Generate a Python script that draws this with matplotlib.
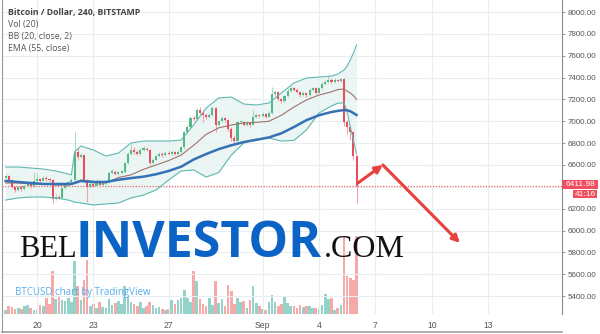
import matplotlib
matplotlib.use("Agg")
import matplotlib.pyplot as plt
import matplotlib.dates as mdates
import pandas as pd
import numpy as np

# 4h candles, Aug 18 08:00 -> Sep 6 00:00
times = pd.date_range("2018-08-18 08:00", periods=113, freq="4h")

opens = [6480, 6500, 6460, 6400, 6370, 6395, 6380, 6410, 6430, 6405,
         6450, 6470, 6455, 6480, 6470, 6460, 6290, 6310, 6300, 6390,
         6420, 6440, 6465, 6720, 6670, 6690, 6460, 6400, 6430, 6410,
         6450, 6420, 6435, 6440, 6530, 6540, 6520, 6530, 6535, 6620,
         6700, 6740, 6720, 6700, 6740, 6745, 6740, 6620, 6650, 6680,
         6700, 6690, 6710, 6700, 6720, 6700, 6720, 6760, 6900, 6950,
         7030, 7020, 7100, 7080, 7060, 7040, 7060, 7120, 6970, 7000,
         7030, 7010, 6930, 6850, 6820, 6990, 6995, 6970, 6985, 6970,
         7040, 7060, 7050, 7070, 7040, 7080, 7250, 7270, 7200, 7190,
         7230, 7280, 7300, 7290, 7270, 7240, 7260, 7240, 7290, 7300,
         7260, 7300, 7340, 7360, 7380, 7360, 7380, 7370, 7385, 6990,
         6950, 6900, 6680]
closes = [6500, 6460, 6400, 6370, 6395, 6380, 6410, 6430, 6405, 6450,
          6470, 6455, 6480, 6470, 6460, 6290, 6310, 6300, 6390, 6420,
          6440, 6465, 6720, 6670, 6690, 6460, 6400, 6430, 6410, 6450,
          6420, 6435, 6440, 6530, 6540, 6520, 6530, 6535, 6620, 6700,
          6740, 6720, 6700, 6740, 6745, 6740, 6620, 6650, 6680, 6700,
          6690, 6710, 6700, 6720, 6700, 6720, 6760, 6900, 6950, 7030,
          7020, 7100, 7080, 7060, 7040, 7060, 7120, 6970, 7000, 7030,
          7010, 6930, 6850, 6820, 6990, 6995, 6970, 6985, 6970, 7040,
          7060, 7050, 7070, 7040, 7080, 7250, 7270, 7200, 7190, 7230,
          7280, 7300, 7290, 7270, 7240, 7260, 7240, 7290, 7300, 7260,
          7300, 7340, 7360, 7380, 7360, 7380, 7370, 7385, 6990, 6950,
          6900, 6680, 6411.98]
highs = [6520, 6510, 6470, 6410, 6405, 6420, 6420, 6450, 6440, 6540,
         6530, 6480, 6500, 6495, 6480, 6470, 6330, 6325, 6400, 6430,
         6455, 6480, 6900, 6760, 6710, 6700, 6470, 6445, 6440, 6470,
         6460, 6450, 6460, 6545, 6560, 6550, 6545, 6550, 6630, 6715,
         6790, 6760, 6735, 6755, 6770, 6760, 6750, 6665, 6700, 6715,
         6720, 6730, 6725, 6735, 6730, 6740, 6775, 6915, 6970, 7050,
         7060, 7120, 7130, 7095, 7075, 7080, 7140, 7130, 7015, 7045,
         7040, 7020, 6945, 6870, 7000, 7010, 7005, 7000, 6995, 7100,
         7075, 7070, 7085, 7080, 7095, 7310, 7290, 7280, 7215, 7245,
         7300, 7320, 7315, 7300, 7280, 7275, 7270, 7305, 7315, 7310,
         7315, 7355, 7380, 7410, 7395, 7395, 7390, 7400, 7395, 7010,
         6965, 6910, 6690]
lows = [6465, 6445, 6385, 6350, 6360, 6365, 6370, 6400, 6390, 6400,
        6440, 6440, 6450, 6455, 6440, 6250, 6280, 6285, 6295, 6380,
        6410, 6430, 6455, 6650, 6660, 6440, 6260, 6390, 6395, 6400,
        6400, 6410, 6420, 6435, 6520, 6505, 6510, 6520, 6525, 6610,
        6690, 6705, 6690, 6695, 6730, 6725, 6600, 6610, 6645, 6670,
        6675, 6680, 6690, 6690, 6690, 6695, 6710, 6750, 6890, 6940,
        7000, 7010, 7060, 6990, 7020, 7030, 7050, 6900, 6960, 6990,
        6995, 6910, 6820, 6800, 6810, 6975, 6955, 6960, 6950, 6965,
        7030, 7035, 7040, 7030, 7035, 7070, 7235, 7185, 7170, 7180,
        7220, 7270, 7275, 7255, 7225, 7230, 7225, 7235, 7280, 7250,
        7255, 7290, 7330, 7350, 7345, 7350, 7355, 7360, 6960, 6880,
        6830, 6650, 6250]
volumes = [4, 8, 7, 5, 6, 5, 8, 9, 6, 4,
           4, 9, 8, 16, 10, 43, 15, 18, 14, 13,
           16, 12, 53, 28, 14, 34, 54, 8, 10, 6,
           12, 7, 6, 15, 9, 11, 13, 10, 28, 18,
           12, 10, 8, 12, 6, 8, 12, 9, 6, 7,
           5, 4, 5, 14, 10, 14, 16, 24, 16, 12,
           43, 33, 15, 10, 8, 16, 9, 33, 11, 15,
           8, 29, 23, 10, 16, 12, 13, 6, 14, 28,
           11, 8, 5, 4, 12, 19, 12, 8, 10, 18,
           11, 8, 8, 6, 9, 7, 8, 8, 6, 6,
           5, 9, 20, 15, 16, 4, 6, 9, 78, 38,
           36, 34, 78]

# indicator lines read at a subset of candles
band_idx = [0, 4, 8, 12, 16, 20, 21, 22, 24, 28, 32, 36, 40, 44, 48, 52, 56,
            60, 64, 68, 72, 76, 80, 84, 88, 92, 96, 100, 104, 106, 108, 109,
            110, 111, 112]
bb_upper = [6581, 6581, 6572, 6563, 6545, 6517, 6510, 6719, 6774, 6737, 6682,
            6709, 6801, 6819, 6819, 6819, 6828, 6966, 7121, 7213, 7222, 7158,
            7149, 7167, 7259, 7350, 7396, 7405, 7414, 7432, 7469, 7506, 7560,
            7625, 7698]
bb_lower = [6279, 6298, 6307, 6307, 6298, 6279, 6270, 6260, 6252, 6234, 6243,
            6252, 6298, 6325, 6371, 6462, 6545, 6554, 6490, 6530, 6690, 6801,
            6838, 6847, 6819, 6825, 6920, 7076, 7140, 7165, 7170, 7085, 6950,
            6828, 6700]
bb_mid = [6435, 6435, 6426, 6426, 6417, 6417, 6420, 6440, 6462, 6450, 6435,
          6485, 6510, 6560, 6600, 6640, 6690, 6780, 6880, 6940, 6965, 6985,
          6990, 7000, 7055, 7130, 7195, 7240, 7270, 7290, 7295, 7275, 7260,
          7235, 7200]
ema55 = [6453, 6444, 6435, 6426, 6426, 6426, 6428, 6435, 6453, 6444, 6444,
         6465, 6480, 6493, 6515, 6545, 6584, 6650, 6700, 6745, 6780, 6810,
         6830, 6852, 6890, 6947, 7010, 7055, 7085, 7095, 7103, 7100, 7092,
         7075, 7057]

last_price = 6411.98
price_ticks = list(range(5400, 8001, 200))
date_ticks = ["2018-08-20", "2018-08-23", "2018-08-27", "2018-09-01",
              "2018-09-04", "2018-09-07", "2018-09-10", "2018-09-13"]
date_labels = ["20", "23", "27", "Sep", "4", "7", "10", "13"]

UP, DOWN = "#53b987", "#eb4d5c"
GRID = "#e8edf1"
TXT = "#555555"
plt.rcParams["font.family"] = ["Liberation Sans", "DejaVu Sans"]

fig = plt.figure(figsize=(6, 3.34), dpi=100)
rect = [2 / 600, 20 / 334, 560 / 600, 314 / 334]

# volume layer underneath
axv = fig.add_axes(rect)
ax = fig.add_axes(rect)
ax.patch.set_visible(False)

x = mdates.date2num(times)
o = np.array(opens)
c = np.array(closes)
up = c >= o

axv.bar(x, volumes, width=0.14, color=np.where(up, "#93d3c9", "#f6a9a9"), zorder=2)
axv.set_ylim(0, 314)
axv.set_axis_off()

xmin = mdates.date2num(pd.Timestamp("2018-08-18 03:20"))
xmax = mdates.date2num(pd.Timestamp("2018-09-16 22:20"))
axv.set_xlim(xmin, xmax)
ax.set_xlim(xmin, xmax)
ax.set_ylim(5236, 8110)

# grid
for t in date_ticks:
    ax.axvline(mdates.date2num(pd.Timestamp(t)), color=GRID, lw=0.8, zorder=0)
for p in price_ticks:
    ax.axhline(p, color=GRID, lw=0.8, zorder=0)

# bollinger bands + ema
bx = x[band_idx]
ax.fill_between(bx, bb_lower, bb_upper, color="#e6f3f2", alpha=0.8, lw=0, zorder=1)
ax.plot(bx, bb_upper, color="#5fb8b0", lw=0.8, zorder=4)
ax.plot(bx, bb_lower, color="#5fb8b0", lw=0.8, zorder=4)
ax.plot(bx, bb_mid, color="#a0726a", lw=0.8, zorder=4)
ax.plot(bx, ema55, color="#3471b5", lw=1.8, zorder=4)

# candles
cols = np.where(up, UP, DOWN)
ax.vlines(x, lows, highs, colors=np.where(up, "#a6dcc0", "#f2a3aa"), lw=0.8, zorder=3)
body = np.where(np.abs(c - o) < 12, 12 * np.where(up, 1, -1), c - o)
ax.bar(x, body, bottom=o, width=0.11, color=cols, lw=0, zorder=3)

ax.axhline(last_price, color="#ef5350", lw=0.8, ls=(0, (1, 1.5)), zorder=2)

# arrows
a0 = (mdates.date2num(pd.Timestamp("2018-09-06 01:40")), 6435)
a1 = (mdates.date2num(pd.Timestamp("2018-09-07 09:36")), 6600)
a2 = (mdates.date2num(pd.Timestamp("2018-09-11 12:00")), 5886)
ax.annotate("", xy=a1, xytext=a0,
            arrowprops=dict(arrowstyle="-|>", color="#e8413c", lw=2.2,
                            mutation_scale=11, shrinkA=0, shrinkB=0), zorder=6)
ax.annotate("", xy=a2, xytext=a1,
            arrowprops=dict(arrowstyle="-|>", color="#e8413c", lw=2.2,
                            mutation_scale=11, shrinkA=0, shrinkB=0), zorder=6)

# axes styling (6400 label sits under the last-price tag)
ax.yaxis.tick_right()
ax.set_yticks(price_ticks)
ax.set_yticklabels(["" if p == 6400 else f"{p:.2f}" for p in price_ticks])
ax.tick_params(axis="y", length=2.5, width=0.6, color="#888888", pad=1.5,
               labelsize=5.8, labelcolor=TXT)
ax.set_xticks([mdates.date2num(pd.Timestamp(t)) for t in date_ticks])
ax.set_xticklabels(date_labels)
ax.tick_params(axis="x", length=0, pad=5, labelsize=6.2, labelcolor=TXT)
for s in ["top", "bottom"]:
    ax.spines[s].set_visible(False)
ax.spines["left"].set_color("#9a9a9a")
ax.spines["right"].set_color("#8a8a8a")
ax.spines["right"].set_linewidth(0.8)

# bottom frame line of time scale
fig.add_artist(plt.Line2D([2 / 600, 562 / 600], [2 / 334, 2 / 334],
                          color="#a0a0a0", lw=1.2))
fig.add_artist(plt.Line2D([2 / 600, 2 / 600], [2 / 334, 20 / 334],
                          color="#9a9a9a", lw=0.8))

# legend text
fig.text(8 / 600, 1 - 13 / 334, "Bitcoin / Dollar, 240, BITSTAMP", fontsize=6.3,
         color="#444444", weight="bold", va="center", family="Open Sans")
for k, s in enumerate(["Vol (20)", "BB (20, close, 2)", "EMA (55, close)"]):
    fig.text(8 / 600, 1 - (25 + 12 * k) / 334, s, fontsize=6.3, color=TXT,
             va="center", family="Open Sans")

# last price tags
fig.patches.append(plt.Rectangle((562 / 600, 1 - 189.5 / 334), 36 / 600, 9.5 / 334,
                                 transform=fig.transFigure, fc="#ef4f5e", ec="none"))
fig.patches.append(plt.Rectangle((573 / 600, 1 - 198 / 334), 24 / 600, 8 / 334,
                                 transform=fig.transFigure, fc="#ef4f5e", ec="none"))
fig.text(580 / 600, 1 - 184.8 / 334, f"{last_price:.2f}", fontsize=6,
         color="white", ha="center", va="center")
fig.text(585 / 600, 1 - 194 / 334, "41:16", fontsize=6, color="white",
         ha="center", va="center")

# watermark
fig.text(19 / 600, 1 - 257 / 334, "BEL", fontsize=22, family="Liberation Serif",
         color="#111111", va="baseline")
fig.text(75 / 600, 1 - 257 / 334, "INVESTOR", fontsize=36, family="Open Sans",
         weight="bold", color="#0b63c6", va="baseline")
fig.text(324 / 600, 1 - 257 / 334, ".COM", fontsize=23, family="Liberation Serif",
         color="#111111", va="baseline")
fig.text(15 / 600, 1 - 293 / 334, "BTCUSD chart by TradingView", fontsize=7,
         color="#5aaef0", va="center", family="Open Sans")

fig.savefig("out.png", dpi=100)
